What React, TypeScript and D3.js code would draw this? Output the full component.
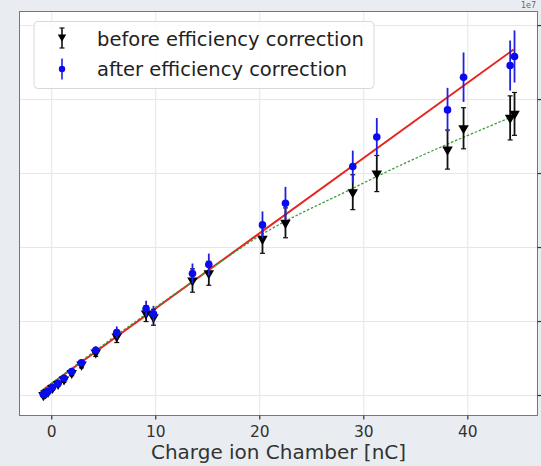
import React from "react";
import * as d3 from "d3";

// charge (nC) for each measurement, shared by both series
const charge = [
  -0.8, -0.58, -0.36, 0.07, 0.61, 1.18, 1.92, 2.86, 4.23, 6.25, 9.07, 9.78,
  13.53, 15.1, 20.26, 22.47, 28.94, 31.25, 38.05, 39.59, 44.07, 44.49,
];
// counts in units of 1e7
const beforeVals = [
  0.003, 0.014, 0.024, 0.051, 0.078, 0.108, 0.152, 0.209, 0.291, 0.399, 0.554,
  0.529, 0.777, 0.826, 1.059, 1.167, 1.374, 1.5, 1.662, 1.806, 1.876, 1.903,
];
const beforeErr = [
  0.012, 0.012, 0.012, 0.015, 0.015, 0.018, 0.018, 0.022, 0.027, 0.041, 0.054,
  0.054, 0.079, 0.081, 0.098, 0.101, 0.118, 0.122, 0.132, 0.139, 0.149, 0.145,
];
const afterVals = [
  0.007, 0.016, 0.029, 0.056, 0.083, 0.117, 0.162, 0.221, 0.306, 0.426, 0.586,
  0.552, 0.824, 0.885, 1.153, 1.299, 1.547, 1.747, 1.93, 2.151, 2.23, 2.291,
];
const afterErr = [
  0.012, 0.012, 0.012, 0.015, 0.015, 0.018, 0.018, 0.022, 0.027, 0.041, 0.054,
  0.054, 0.068, 0.074, 0.091, 0.111, 0.108, 0.128, 0.149, 0.167, 0.169, 0.176,
];
// fit lines
const redFitX = [-1.06, 44.4];
const redFitY = [0.027, 2.338];
const greenFitX = [-1.06, 6.25, 13.53, 20.26, 28.91, 31.63, 44.13];
const greenFitY = [0.027, 0.409, 0.77, 1.091, 1.399, 1.493, 1.88];

const xTicks = [0, 10, 20, 30, 40];
const yTicks = [0, 0.5, 1, 1.5, 2, 2.5];

const W = 541;
const H = 466;
const left = 19.5;
const right = 537.5;
const top = 11.5;
const bottom = 415.5;

const font = "DejaVu Sans, sans-serif";

export default function App() {
  const x = d3.scaleLinear().domain([-3.1, 46.7]).range([left, right]);
  const y = d3.scaleLinear().domain([-0.135, 2.595]).range([bottom, top]);

  const line = d3
    .line<[number, number]>()
    .x((d) => x(d[0]))
    .y((d) => y(d[1]));
  const redPath = line(redFitX.map((v, i) => [v, redFitY[i]]));
  const greenPath = line.curve(d3.curveMonotoneX)(
    greenFitX.map((v, i) => [v, greenFitY[i]])
  );

  const tri = d3.symbol().type(d3.symbolTriangle).size(48)();

  return (
    <svg
      width={W}
      height={H}
      style={{ position: "absolute", left: 0, top: 0 }}
      fontFamily={font}
    >
      <rect width={W} height={H} fill="#e9edf2" />
      <rect x={left} y={top} width={right - left} height={bottom - top} fill="#fff" />

      {/* grid */}
      {xTicks.map((t) => (
        <line key={"gx" + t} x1={x(t)} x2={x(t)} y1={top} y2={bottom} stroke="#e6e6e6" />
      ))}
      {yTicks.map((t) => (
        <line key={"gy" + t} x1={left} x2={right} y1={y(t)} y2={y(t)} stroke="#e6e6e6" />
      ))}

      {/* fits */}
      <path d={redPath || ""} fill="none" stroke="#e8221e" strokeWidth={2} />
      <path
        d={greenPath || ""}
        fill="none"
        stroke="#3a9d3a"
        strokeWidth={1.3}
        strokeDasharray="2.5,1.8"
      />

      {/* before correction */}
      {charge.map((c, i) => (
        <g key={"b" + i}>
          <line
            x1={x(c)}
            x2={x(c)}
            y1={y(beforeVals[i] - beforeErr[i])}
            y2={y(beforeVals[i] + beforeErr[i])}
            stroke="#111"
            strokeWidth={1.8}
          />
          {[-1, 1].map((s) => (
            <line
              key={s}
              x1={x(c) - 2.5}
              x2={x(c) + 2.5}
              y1={y(beforeVals[i] + s * beforeErr[i])}
              y2={y(beforeVals[i] + s * beforeErr[i])}
              stroke="#111"
              strokeWidth={1.2}
            />
          ))}
          <path
            d={tri || ""}
            transform={`translate(${x(c)},${y(beforeVals[i])}) rotate(180)`}
            fill="#000"
          />
        </g>
      ))}

      {/* after correction */}
      {charge.map((c, i) => (
        <g key={"a" + i}>
          <line
            x1={x(c)}
            x2={x(c)}
            y1={y(afterVals[i] - afterErr[i])}
            y2={y(afterVals[i] + afterErr[i])}
            stroke="#2020e0"
            strokeWidth={1.8}
          />
          <circle cx={x(c)} cy={y(afterVals[i])} r={3.8} fill="#0a0af0" />
        </g>
      ))}

      {/* frame */}
      <rect
        x={left}
        y={top}
        width={right - left}
        height={bottom - top}
        fill="none"
        stroke="#777"
        strokeWidth={1}
      />

      {/* x axis */}
      {xTicks.map((t) => (
        <g key={"xt" + t}>
          <line x1={x(t)} x2={x(t)} y1={bottom} y2={bottom + 4} stroke="#333" strokeWidth={1.2} />
          <text x={x(t)} y={bottom + 21} textAnchor="middle" fontSize={15.5} fill="#333">
            {t}
          </text>
        </g>
      ))}
      {/* y ticks on the right, labels cut off */}
      {yTicks.map((t) => (
        <line key={"yt" + t} x1={right} x2={right + 4} y1={y(t)} y2={y(t)} stroke="#333" strokeWidth={1.2} />
      ))}
      <text x={536} y={8} textAnchor="end" fontSize={8} fill="#666">
        1e7
      </text>
      <text x={(left + right) / 2} y={459} textAnchor="middle" fontSize={20} fill="#333">
        Charge ion Chamber [nC]
      </text>

      {/* legend */}
      <rect x={34} y={21.5} width={340} height={67} rx={4} fill="#fff" fillOpacity={0.85} stroke="#d8d8d8" />
      <line x1={62} x2={62} y1={28} y2={48} stroke="#111" strokeWidth={1.6} />
      <line x1={59.5} x2={64.5} y1={28} y2={28} stroke="#111" strokeWidth={1.2} />
      <line x1={59.5} x2={64.5} y1={48} y2={48} stroke="#111" strokeWidth={1.2} />
      <path d={tri || ""} transform="translate(62,37) rotate(180) scale(0.8)" fill="#000" />
      <line x1={62} x2={62} y1={58.5} y2={79.5} stroke="#2020e0" strokeWidth={1.6} />
      <circle cx={62} cy={69} r={3.2} fill="#0a0af0" />
      <text x={97} y={46} fontSize={19.5} fill="#222">
        before efficiency correction
      </text>
      <text x={97} y={76} fontSize={19.5} fill="#222">
        after efficiency correction
      </text>
    </svg>
  );
}
